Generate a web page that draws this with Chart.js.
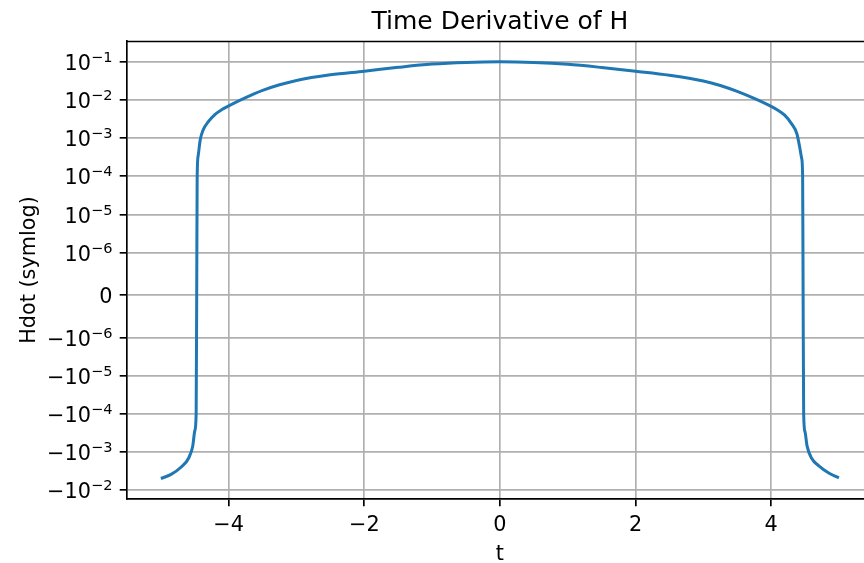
<!DOCTYPE html>
<html>
<head>
<meta charset="utf-8">
<script src="https://cdn.jsdelivr.net/npm/chart.js@4.4.1/dist/chart.umd.min.js"></script>
<style>
  html, body { margin: 0; padding: 0; background: #fff; }
  #wrap { width: 864px; height: 563px; }
</style>
</head>
<body>
<div id="wrap"><canvas id="myChart"></canvas></div>
<script>
// values
const tValues = [
  -5.0, -4.85, -4.7, -4.59, -4.53, -4.5, -4.48, -4.472, -4.465, -4.45, -4.42, -4.38,
  -4.3, -4.2, -4.1, -4.0, -3.75, -3.5, -3.25, -3.0, -2.5, -2.0, -1.5, -1.0, -0.5,
  0,
  0.5, 1.0, 1.5, 2.0, 2.5, 3.0, 3.25, 3.5, 3.75, 4.0, 4.1, 4.2, 4.3,
  4.38, 4.42, 4.45, 4.465, 4.472, 4.48, 4.5, 4.53, 4.6, 4.7, 4.85, 5.0
];
const hdotValues = [
  -0.0050, -0.0039, -0.0025, -0.00145, -0.0007, -0.00028, -0.0001, 0, 0.0001, 0.00035, 0.0009, 0.0016,
  0.0027, 0.0042, 0.0056, 0.0070, 0.0115, 0.0178, 0.0250, 0.0325, 0.0455, 0.0567, 0.0715, 0.0870, 0.0965,
  0.1000,
  0.0960, 0.0860, 0.0710, 0.0567, 0.0445, 0.0315, 0.0240, 0.0168, 0.0110, 0.0068, 0.0054, 0.0040, 0.0024,
  0.0013, 0.0006, 0.0003, 0.0001, 0, -0.0001, -0.0003, -0.0007, -0.0015, -0.0023, -0.0036, -0.0048
];

const xTicks = [-4, -2, 0, 2, 4];
const xTickLabels = ["\u22124", "\u22122", "0", "2", "4"];
const yTicks = [1e-1, 1e-2, 1e-3, 1e-4, 1e-5, 1e-6, 0, -1e-6, -1e-5, -1e-4, -1e-3, -1e-2];
// tick label = base with a raised exponent, like matplotlib's mathtext
const yTickBase = ["10", "10", "10", "10", "10", "10", "0", "\u221210", "\u221210", "\u221210", "\u221210", "\u221210"];
const yTickExp = ["\u22121", "\u22122", "\u22123", "\u22124", "\u22125", "\u22126", "", "\u22126", "\u22125", "\u22124", "\u22123", "\u22122"];

const TITLE = "Time Derivative of H";
const X_LABEL = "t";
const Y_LABEL = "Hdot (symlog)";

// symlog like matplotlib: linthresh 1e-6, linscale 1, base 10
const LINTHRESH = 1e-6;
const LINSCALE = 1 / (1 - 1 / 10);
function symlog(v) {
  const a = Math.abs(v);
  if (a <= LINTHRESH) return v / LINTHRESH * LINSCALE;
  return Math.sign(v) * (LINSCALE + Math.log10(a / LINTHRESH));
}
function symexp(t) {
  const a = Math.abs(t);
  if (a <= LINSCALE) return t / LINSCALE * LINTHRESH;
  return Math.sign(t) * LINTHRESH * Math.pow(10, a - LINSCALE);
}

class SymlogScale extends Chart.LinearScale {
  static id = "symlog";
  static defaults = {};
  buildTicks() {
    return yTicks.map(v => ({ value: v }));
  }
  configure() {
    super.configure();
    this._tMin = symlog(this.min);
    this._tMax = symlog(this.max);
  }
  getPixelForValue(value) {
    if (value === null || value === undefined || isNaN(value)) return NaN;
    return this.getPixelForDecimal((symlog(value) - this._tMin) / (this._tMax - this._tMin));
  }
  getValueForPixel(pixel) {
    const d = this.getDecimalForPixel(pixel);
    return symexp(this._tMin + d * (this._tMax - this._tMin));
  }
}
Chart.register(SymlogScale);

Chart.defaults.font.family = "'DejaVu Sans'";
Chart.defaults.color = "#000";

const LW = 1.67; // 0.8pt at 150 dpi
const FS = 20.8; // 10pt at 150 dpi

// title, axis labels, y tick labels and the top spine, placed like matplotlib does
const mplText = {
  id: "mplText",
  afterDraw(chart) {
    const { ctx, chartArea, scales } = chart;
    const cx = scales.x.getPixelForValue(0);
    ctx.save();
    ctx.strokeStyle = "#000";
    ctx.lineWidth = LW;
    ctx.beginPath();
    ctx.moveTo(chartArea.left - LW / 2, chartArea.top + 0.5);
    ctx.lineTo(chartArea.right, chartArea.top + 0.5);
    ctx.stroke();

    ctx.fillStyle = "#000";
    ctx.textBaseline = "alphabetic";

    // y tick labels
    const right = chartArea.left - 14.6;
    ctx.textAlign = "left";
    yTicks.forEach((v, i) => {
      const y = scales.y.getPixelForValue(v) + 8.2;
      ctx.font = `${FS * 0.7}px 'DejaVu Sans'`;
      const ew = yTickExp[i] ? ctx.measureText(yTickExp[i]).width : 0;
      ctx.font = `${FS}px 'DejaVu Sans'`;
      const bw = ctx.measureText(yTickBase[i]).width;
      ctx.fillText(yTickBase[i], right - ew - bw, y);
      if (yTickExp[i]) {
        ctx.font = `${FS * 0.7}px 'DejaVu Sans'`;
        ctx.fillText(yTickExp[i], right - ew, y - 8);
      }
    });

    ctx.textAlign = "center";
    ctx.font = "25px 'DejaVu Sans'";
    ctx.fillText(TITLE, cx, chartArea.top - 12.5);
    ctx.font = `${FS}px 'DejaVu Sans'`;
    ctx.fillText(X_LABEL, cx, 560);
    ctx.translate(35, (chartArea.top + chartArea.bottom) / 2);
    ctx.rotate(-Math.PI / 2);
    ctx.fillText(Y_LABEL, 0, 0);
    ctx.restore();
  }
};

const ctx = document.querySelector("#myChart").getContext("2d");
const myChart = new Chart(ctx, {
  type: "line",
  data: {
    datasets: [{
      data: tValues.map((t, i) => ({ x: t, y: hdotValues[i] })),
      borderColor: "#1f77b4",
      borderWidth: 3,
      pointRadius: 0,
      fill: false,
      cubicInterpolationMode: "monotone"
    }]
  },
  options: {
    responsive: true,
    maintainAspectRatio: false,
    animation: false,
    layout: { padding: { top: 41, right: 0, bottom: 0, left: 0 } },
    plugins: {
      legend: { display: false },
      tooltip: { enabled: false }
    },
    scales: {
      x: {
        type: "linear",
        min: -5.5,
        max: 5.37,
        bounds: "data",
        afterBuildTicks: s => { s.ticks = xTicks.map(v => ({ value: v })); },
        afterFit: s => { s.height = 64; },
        ticks: {
          autoSkip: false,
          maxRotation: 0,
          padding: 7.3,
          font: { size: FS },
          callback: (v, i) => xTickLabels[i]
        },
        grid: { color: "#b0b0b0", lineWidth: LW, tickLength: 7.3, tickColor: "#000", tickWidth: LW },
        border: { color: "#000", width: LW }
      },
      y: {
        type: "symlog",
        min: -0.01722,
        max: 0.351,
        bounds: "data",
        afterFit: s => { s.width = 127; },
        ticks: { display: false, autoSkip: false },
        grid: { color: "#b0b0b0", lineWidth: LW, tickLength: 7.3, tickColor: "#000", tickWidth: LW },
        border: { color: "#000", width: LW }
      }
    }
  },
  plugins: [mplText]
});
</script>
</body>
</html>
